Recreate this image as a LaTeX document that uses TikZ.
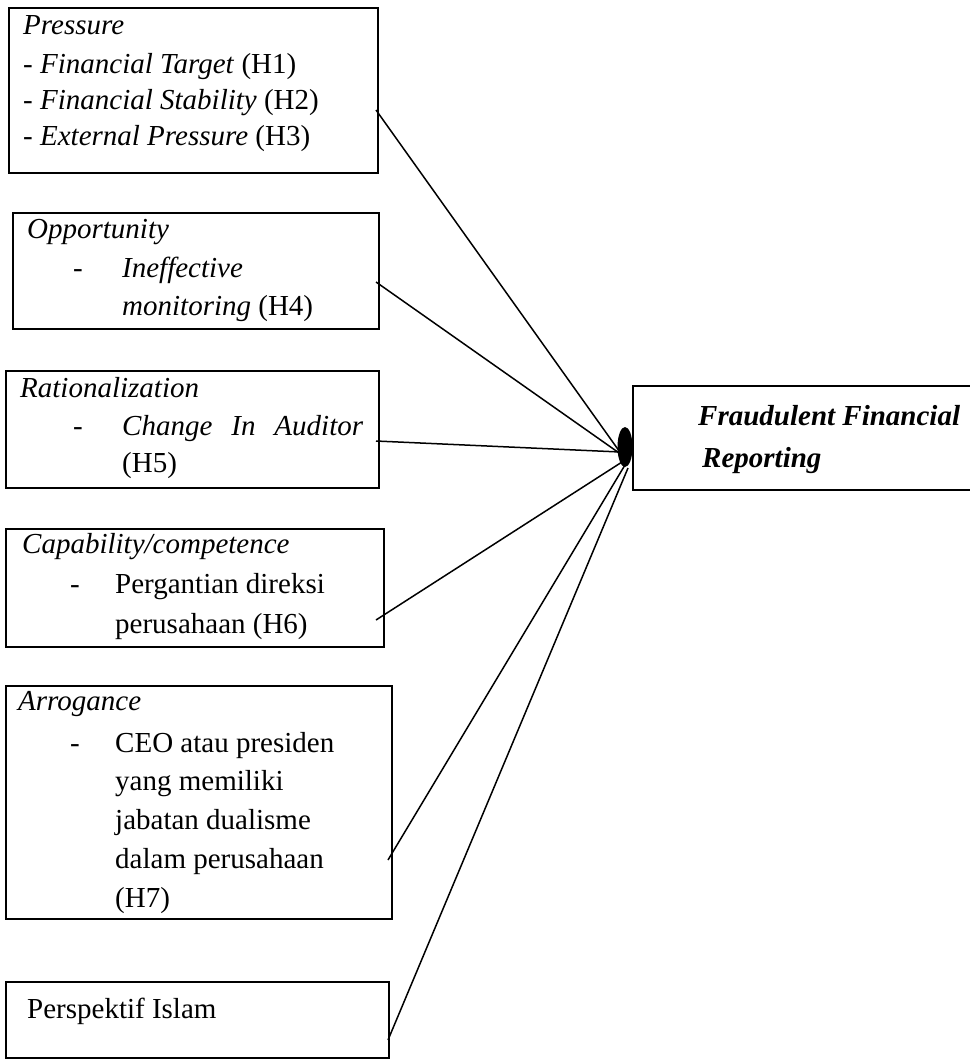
\documentclass[tikz,border=0pt]{standalone}
\usepackage{fontspec}
\setmainfont{Liberation Serif}
\usetikzlibrary{shapes.geometric}
\tikzset{
  boxnode/.style={draw, line width=1.8pt, anchor=north west, inner sep=0pt},
  txt/.style={anchor=base west, inner sep=0pt, font=\fontsize{29}{35}\selectfont},
  conn/.style={line width=1.5pt},
}
\begin{document}
\begin{tikzpicture}[x=1pt,y=-1pt]
\useasboundingbox (0,0) rectangle (969,1060);
% boxes
\node[boxnode, minimum width=369pt, minimum height=165pt] (pressure) at (8,7) {};
\node[boxnode, minimum width=366pt, minimum height=116pt] (opp) at (12,212) {};
\node[boxnode, minimum width=373pt, minimum height=117pt] (rat) at (5,370) {};
\node[boxnode, minimum width=378pt, minimum height=118pt] (cap) at (5,528) {};
\node[boxnode, minimum width=386pt, minimum height=233pt] (arr) at (5,685) {};
\node[boxnode, minimum width=383pt, minimum height=76pt] (isl) at (5,981) {};
\node[boxnode, minimum width=360pt, minimum height=104pt] (ffr) at (632,385) {};
% hub
\node[ellipse, fill=black, minimum width=15pt, minimum height=40pt, inner sep=0pt] (hub) at (625,447) {};
% texts
\node[txt] (t1a) at (23,34) {\textit{Pressure}};
\node[txt] (t1b) at (23,73) {- \textit{Financial Target} (H1)};
\node[txt] (t1c) at (23,109) {- \textit{Financial Stability} (H2)};
\node[txt] (t1d) at (23,145) {- \textit{External Pressure} (H3)};
\node[txt] (t2a) at (27,238) {\textit{Opportunity}};
\node[txt] (t2d) at (73,277) {-};
\node[txt] (t2b) at (122,277) {\textit{Ineffective}};
\node[txt] (t2c) at (122,315) {\textit{monitoring} (H4)};
\node[txt] (t3a) at (20,397) {\textit{Rationalization}};
\node[txt] (t3d) at (73,435) {-};
\node[txt] (t3b) at (122,435) {\makebox[241pt][s]{\textit{Change In Auditor}}};
\node[txt] (t3c) at (122,472) {(H5)};
\node[txt] (t4a) at (22,553) {\textit{Capability/competence}};
\node[txt] (t4d) at (70,593) {-};
\node[txt] (t4b) at (115,593) {Pergantian direksi};
\node[txt] (t4c) at (115,633) {perusahaan (H6)};
\node[txt] (t5a) at (18,710) {\textit{Arrogance}};
\node[txt] (t5d) at (70,752) {-};
\node[txt] (t5b) at (115,752) {CEO atau presiden};
\node[txt] (t5c) at (115,790) {yang memiliki};
\node[txt] (t5e) at (115,829) {jabatan dualisme};
\node[txt] (t5f) at (115,868) {dalam perusahaan};
\node[txt] (t5g) at (115,907) {(H7)};
\node[txt] (t6a) at (27,1018) {Perspektif Islam};
\node[txt] (t7a) at (698,425) {\textbf{\textit{Fraudulent Financial}}};
\node[txt] (t7b) at (702,467) {\textbf{\textit{Reporting}}};
% connector end points
\coordinate (c1) at (376,110);
\coordinate (c2) at (376,282);
\coordinate (c3) at (376,441);
\coordinate (c4) at (376,620);
\coordinate (c5) at (388,860);
\coordinate (c6) at (388,1040);
\coordinate (h1) at (622,455);
\coordinate (h2) at (622,455);
\coordinate (h3) at (620,452);
\coordinate (h4) at (622,462);
\coordinate (h5) at (625,465);
\coordinate (h6) at (628,468);
\draw[conn] (c1) -- (h1);
\draw[conn] (c2) -- (h2);
\draw[conn] (c3) -- (h3);
\draw[conn] (c4) -- (h4);
\draw[conn] (c5) -- (h5);
\draw[conn] (c6) -- (h6);
\end{tikzpicture}
\end{document}
